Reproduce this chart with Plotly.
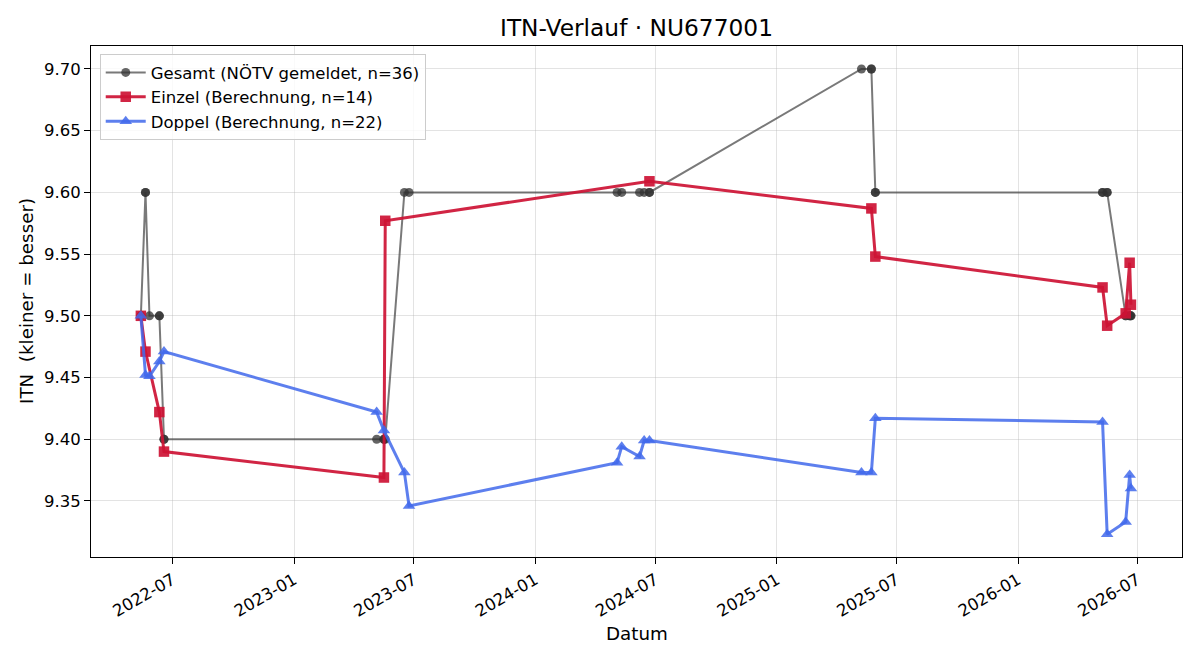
import plotly.graph_objects as go

# ---------------- data ----------------
gesamt_dates = [
    "2022-05-14", "2022-05-14", "2022-05-21", "2022-05-21", "2022-05-27",
    "2022-06-11", "2022-06-11", "2022-06-18", "2022-06-18",
    "2023-05-06", "2023-05-17", "2023-05-17", "2023-05-19",
    "2023-06-17", "2023-06-24",
    "2024-05-04", "2024-05-11", "2024-06-07", "2024-06-14", "2024-06-22", "2024-06-22",
    "2025-05-09", "2025-05-24", "2025-05-24", "2025-05-30", "2025-05-30",
    "2026-05-09", "2026-05-09", "2026-05-16", "2026-05-16",
    "2026-06-13", "2026-06-13", "2026-06-19", "2026-06-19", "2026-06-21", "2026-06-21",
]
gesamt_itn = [
    9.50, 9.50, 9.60, 9.60, 9.50,
    9.50, 9.50, 9.40, 9.40,
    9.40, 9.40, 9.40, 9.40,
    9.60, 9.60,
    9.60, 9.60, 9.60, 9.60, 9.60, 9.60,
    9.70, 9.70, 9.70, 9.60, 9.60,
    9.60, 9.60, 9.60, 9.60,
    9.50, 9.50, 9.50, 9.50, 9.50, 9.50,
]

einzel_dates = [
    "2022-05-14", "2022-05-21", "2022-06-11", "2022-06-18",
    "2023-05-17", "2023-05-19", "2024-06-22", "2025-05-24", "2025-05-30",
    "2026-05-09", "2026-05-16", "2026-06-13", "2026-06-19", "2026-06-21",
]
einzel_itn = [
    9.500, 9.471, 9.422, 9.390,
    9.369, 9.577, 9.609, 9.587, 9.548,
    9.523, 9.492, 9.502, 9.543, 9.509,
]

doppel_dates = [
    "2022-05-14", "2022-05-21", "2022-05-27", "2022-06-11", "2022-06-18",
    "2023-05-06", "2023-05-17", "2023-06-17", "2023-06-24",
    "2024-05-04", "2024-05-11", "2024-06-07", "2024-06-14", "2024-06-22",
    "2025-05-09", "2025-05-24", "2025-05-30",
    "2026-05-09", "2026-05-16", "2026-06-13", "2026-06-19", "2026-06-21",
]
doppel_itn = [
    9.500, 9.452, 9.451, 9.463, 9.471,
    9.422, 9.407, 9.373, 9.346,
    9.381, 9.394, 9.386, 9.399, 9.399,
    9.373, 9.373, 9.417,
    9.414, 9.323, 9.333, 9.371, 9.360,
]

x_tickvals = ["2022-07-01", "2023-01-01", "2023-07-01", "2024-01-01", "2024-07-01",
              "2025-01-01", "2025-07-01", "2026-01-01", "2026-07-01"]
x_ticktext = ["2022-07", "2023-01", "2023-07", "2024-01", "2024-07",
              "2025-01", "2025-07", "2026-01", "2026-07"]
y_tickvals = [9.35, 9.40, 9.45, 9.50, 9.55, 9.60, 9.65, 9.70]

# ---------------- figure ----------------
FONT = "DejaVu Sans"
TICK = 16.5
LAB = 18.3
fig = go.Figure()

fig.add_trace(go.Scatter(
    x=gesamt_dates, y=gesamt_itn, mode="lines+markers",
    name="Gesamt (NÖTV gemeldet, n=36)", legendgroup="g",
    line=dict(color="rgba(64,64,64,0.7)", width=2),
    marker=dict(symbol="circle", size=9, color="rgba(50,50,50,0.75)"),
))
fig.add_trace(go.Scatter(
    x=einzel_dates, y=einzel_itn, mode="lines+markers",
    name="Einzel (Berechnung, n=14)", legendgroup="e",
    line=dict(color="rgba(205,18,52,0.92)", width=3),
    marker=dict(symbol="square", size=10.5, color="rgba(205,18,52,0.92)"),
))
fig.add_trace(go.Scatter(
    x=doppel_dates, y=doppel_itn, mode="lines+markers",
    name="Doppel (Berechnung, n=22)", legendgroup="d",
    line=dict(color="rgba(65,105,235,0.85)", width=3),
    marker=dict(symbol="triangle-up", size=11, color="rgba(65,105,235,0.85)"),
))

axis_common = dict(
    showline=True, linecolor="black", linewidth=1, mirror=True,
    ticks="outside", ticklen=6, tickcolor="black", tickwidth=1,
    showgrid=True, gridcolor="rgba(176,176,176,0.35)", gridwidth=1,
    zeroline=False, tickfont=dict(family=FONT, size=TICK, color="black"),
)

fig.update_xaxes(
    type="date", range=["2022-02-27 12:00", "2026-09-06 07:00"],
    tickvals=x_tickvals, ticktext=x_ticktext, tickangle=-30,
    **axis_common,
)
fig.update_yaxes(
    range=[9.3046, 9.7186], tickvals=y_tickvals, tickformat=".2f",
    **axis_common,
)

fig.update_layout(
    width=1200, height=660,
    margin=dict(l=91, r=18, t=46, b=103),
    paper_bgcolor="white", plot_bgcolor="white",
    font=dict(family=FONT, size=TICK, color="black"),
    title=dict(text="ITN-Verlauf · NU677001", x=(91 + 1182) / 2 / 1200, xanchor="center",
               y=1 - 28 / 660, yanchor="middle", yref="container",
               font=dict(family=FONT, size=23.3, color="black")),
    legend=dict(x=0.008, y=0.984, xanchor="left", yanchor="top",
                bgcolor="rgba(255,255,255,0.8)", bordercolor="#cccccc", borderwidth=1,
                font=dict(family=FONT, size=TICK, color="black"),
                tracegroupgap=4, traceorder="normal", itemwidth=40),
    showlegend=True,
    annotations=[
        dict(text="Datum", x=(91 + 1182) / 2 / 1200, y=1 - 633 / 660,
             xref="paper", yref="paper", showarrow=False,
             xanchor="center", yanchor="middle",
             font=dict(family=FONT, size=LAB, color="black")),
        dict(text="ITN  (kleiner = besser)", x=26 / 1200, y=1 - 301 / 660,
             xref="paper", yref="paper", showarrow=False, textangle=-90,
             xanchor="center", yanchor="middle",
             font=dict(family=FONT, size=LAB, color="black")),
    ],
)

# convert annotation positions from pixel-based to plot-area paper coords
for ann in fig.layout.annotations:
    px_x = ann.x * 1200
    px_y = (1 - ann.y) * 660
    ann.x = (px_x - 91) / (1182 - 91)
    ann.y = (557 - px_y) / (557 - 46)

fig.write_html("out.html")
